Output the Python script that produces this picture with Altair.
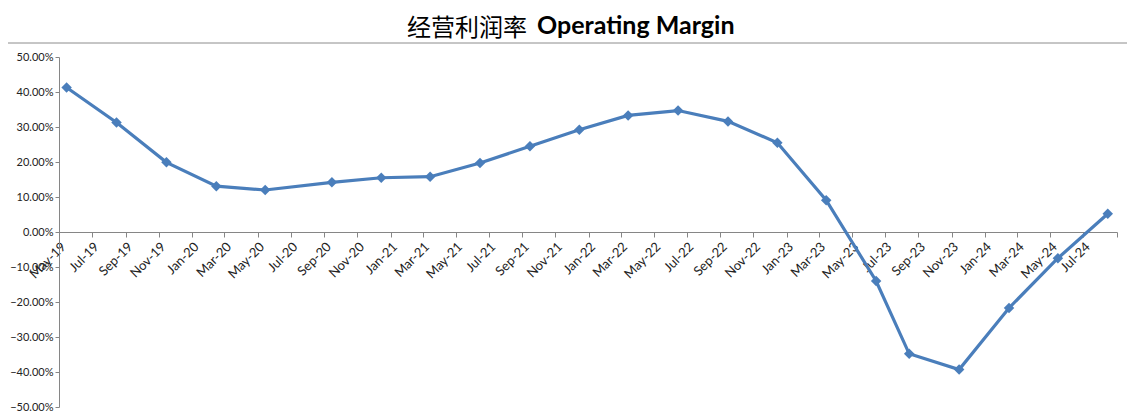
import altair as alt
import pandas as pd

dates = ["2019-05-15", "2019-08-15", "2019-11-15", "2020-02-15", "2020-05-15",
         "2020-09-15", "2020-12-15", "2021-03-15", "2021-06-15", "2021-09-15",
         "2021-12-15", "2022-03-15", "2022-06-15", "2022-09-15", "2022-12-15",
         "2023-03-15", "2023-06-15", "2023-08-15", "2023-11-15", "2024-02-15",
         "2024-05-15", "2024-08-15"]
margin = [0.413, 0.313, 0.199, 0.131, 0.120,
          0.142, 0.155, 0.158, 0.197, 0.245,
          0.292, 0.333, 0.347, 0.316, 0.255,
          0.091, -0.140, -0.348, -0.393, -0.217,
          -0.075, 0.052]

title_cn = "经营利润率"
title_en = "Operating Margin"

df = pd.DataFrame({"date": dates, "margin": margin})

W, H = 1058, 350
LINE = "#4A7EBB"
FONT = "Lato"

x = alt.X(
    "date:T",
    scale=alt.Scale(type="utc",
                    domain=[alt.DateTime(year=2019, month=5, date=1, utc=True),
                            alt.DateTime(year=2024, month=9, date=1, utc=True)]),
    axis=alt.Axis(
        title=None, orient="bottom", offset=-H / 2,
        tickCount={"interval": "month", "step": 2},
        labelExpr="datum.value >= toDate('2024-08-15') ? '' : utcFormat(datum.value, '%b-%y')",
        labelAngle=-45, labelAlign="right", labelBaseline="top",
        labelFontSize=13, labelColor="#222222", labelFont=FONT,
        labelPadding=3, labelOverlap=False, labelFlush=False,
        domainColor="#868686", tickColor="#868686", tickSize=5, grid=False,
    ),
)
y = alt.Y(
    "margin:Q",
    scale=alt.Scale(domain=[-0.5, 0.5], nice=False),
    axis=alt.Axis(
        title=None, values=[-0.5, -0.4, -0.3, -0.2, -0.1, 0, 0.1, 0.2, 0.3, 0.4, 0.5],
        format=".2%", labelFontSize=11, labelColor="#222222", labelFont=FONT,
        domainColor="#868686", tickColor="#868686", tickSize=4, grid=False,
        labelPadding=2,
    ),
)

line = alt.Chart(df).mark_line(color=LINE, strokeWidth=3.2).encode(x=x, y=y)
pts = alt.Chart(df).mark_point(shape="diamond", filled=True, size=110,
                               color=LINE, opacity=1).encode(x=x, y=y)

tdf = pd.DataFrame({"cn": [title_cn], "en": [title_en]})
t_cn = alt.Chart(tdf).mark_text(font="Noto Sans CJK SC", fontSize=24, align="right",
                                baseline="alphabetic", color="#000000").encode(
    text="cn:N", x=alt.value(468), y=alt.value(-21))
t_en = alt.Chart(tdf).mark_text(font=FONT, fontSize=25, fontWeight="bold", align="left",
                                baseline="alphabetic", color="#000000").encode(
    text="en:N", x=alt.value(478), y=alt.value(-23))
top_rule = alt.Chart(tdf).mark_rule(color="#8C8C8C", strokeWidth=1).encode(
    x=alt.value(-51), x2=alt.value(W + 10), y=alt.value(-14))

chart = alt.layer(top_rule, line, pts, t_cn, t_en).properties(
    width=W, height=H,
    background="white",
    autosize=alt.AutoSizeParams(type="none"),
    padding={"left": 51, "top": 49, "right": 10, "bottom": 10},
).configure_view(strokeWidth=0, stroke="transparent")

chart.save("out.html", embed_options={"renderer": "svg", "actions": False})
